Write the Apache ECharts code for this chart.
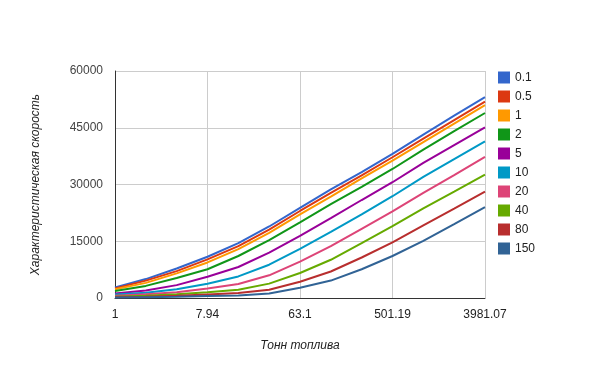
<!DOCTYPE html>
<html><head><meta charset="utf-8">
<script src="https://cdn.jsdelivr.net/npm/echarts@6/dist/echarts.min.js"></script>
<style>html,body{margin:0;padding:0;background:#fff}#c{width:600px;height:371px}</style>
</head><body><div id="c"></div>
<script>
var fuel = [1, 1.995, 3.981, 7.943, 15.85, 31.62, 63.1, 125.9, 251.2, 501.19, 1000, 1995.3, 3981.07];
var seriesNames = ["0.1", "0.5", "1", "2", "5", "10", "20", "40", "80", "150"];
var colors = ["#3366cc", "#dc3912", "#ff9900", "#109618", "#990099", "#0099c6", "#dd4477", "#66aa00", "#b82e2e", "#316395"];
var v01  = [2800, 5000, 7800, 10900, 14500, 18900, 23800, 28700, 33300, 38100, 43200, 48200, 53100];
var v05  = [2550, 4600, 7100, 10200, 13700, 18100, 23000, 27800, 32400, 37200, 42100, 47000, 51900];
var v1   = [2300, 4000, 6500, 9400, 12900, 17200, 22100, 26800, 31600, 36300, 41200, 46100, 51000];
var v2   = [1850, 3200, 5300, 7600, 11100, 15300, 20000, 24800, 29400, 34100, 39200, 44100, 48900];
var v5   = [1200, 2000, 3400, 5600, 8200, 12000, 16400, 21100, 25900, 30600, 35700, 40400, 45100];
var v10  = [900, 1400, 2300, 3750, 5700, 8800, 13000, 17500, 22100, 26900, 32000, 36700, 41400];
var v20  = [600, 1000, 1500, 2500, 3700, 6000, 9600, 13700, 18300, 22900, 27800, 32500, 37300];
var v40  = [350, 600, 970, 1500, 2200, 3800, 6600, 10100, 14500, 19000, 23700, 28100, 32600];
var v80  = [200, 350, 600, 950, 1300, 2200, 4300, 7000, 10700, 14700, 19200, 23600, 28100];
var v150 = [100, 200, 300, 500, 650, 1200, 2700, 4600, 7600, 11100, 15100, 19500, 24000];
var allValues = [v01, v05, v1, v2, v5, v10, v20, v40, v80, v150];
var yTicks = [0, 15000, 30000, 45000, 60000];

var series = seriesNames.map(function (n, i) {
  return {
    name: n, type: 'line', showSymbol: false, symbol: 'none',
    lineStyle: { width: 2, color: colors[i] }, itemStyle: { color: colors[i] },
    data: fuel.map(function (x, j) { return [x, allValues[i][j]]; })
  };
});

var chart = echarts.init(document.getElementById('c'));
chart.setOption({
  animation: false,
  grid: { left: 115, right: 115, top: 71, bottom: 73 },
  legend: {
    orient: 'vertical', left: 498, top: 71.5, padding: 0, icon: 'rect',
    itemWidth: 12, itemHeight: 12, itemGap: 7,
    textStyle: { fontFamily: 'Liberation Sans, Arial', fontSize: 12, color: '#222', lineHeight: 12 },
    data: seriesNames
  },
  xAxis: {
    type: 'log', logBase: Math.pow(10, 0.9), min: 1, max: 3981.0717055,
    name: 'Тонн топлива', nameLocation: 'middle', nameGap: 42,
    nameTextStyle: { fontFamily: 'Liberation Sans, Arial', fontSize: 12, fontStyle: 'italic', color: '#222' },
    axisLine: { lineStyle: { color: '#333', width: 1 } },
    axisTick: { show: false },
    axisLabel: { margin: 11, fontFamily: 'Liberation Sans, Arial', fontSize: 12, color: '#222',
      formatter: function (v) { return String(Number(v.toFixed(2))); } },
    splitLine: { show: true, lineStyle: { color: '#ccc' } }
  },
  yAxis: {
    type: 'value', min: yTicks[0], max: yTicks[yTicks.length - 1], interval: 15000,
    name: 'Характеристическая скорость', nameLocation: 'middle', nameGap: 73,
    nameTextStyle: { fontFamily: 'Liberation Sans, Arial', fontSize: 12, fontStyle: 'italic', color: '#222' },
    axisLine: { show: true, lineStyle: { color: '#333', width: 1 } },
    axisTick: { show: false },
    axisLabel: { margin: 12, fontFamily: 'Liberation Sans, Arial', fontSize: 12, color: '#444',
      formatter: function (v) { return String(v); } },
    splitLine: { show: true, lineStyle: { color: '#ccc' } }
  },
  series: series
});
</script></body></html>
